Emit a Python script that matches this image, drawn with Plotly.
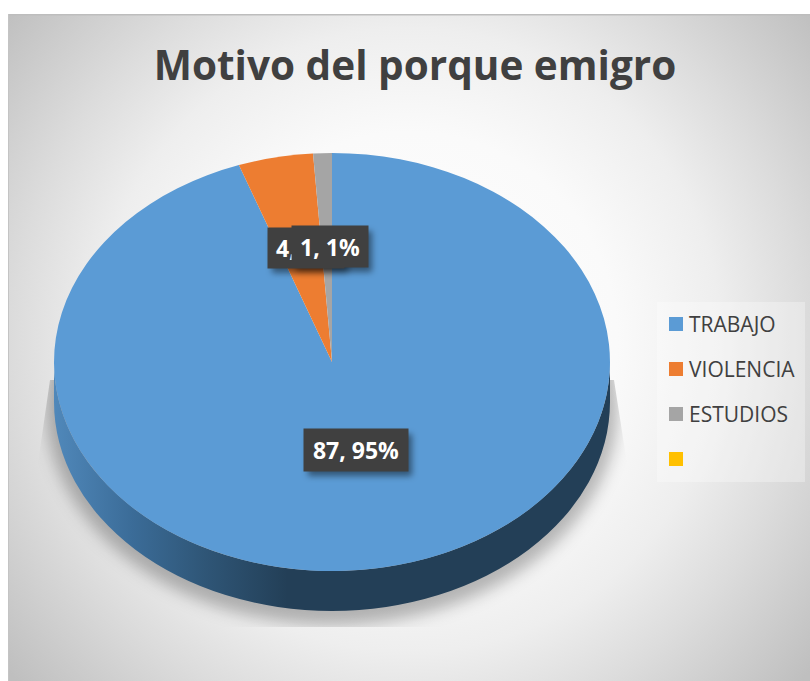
import base64
import plotly.graph_objects as go

TITLE = "Motivo del porque emigro"
CATEGORIES = ["TRABAJO", "VIOLENCIA", "ESTUDIOS", " "]
VALUES = [87, 4, 1, 0]
COLORS = ["#5B9BD5", "#ED7D31", "#A5A5A5", "#FFC000"]

W, H = 810, 681
CX, CY, RX, RY = 332, 362, 278, 209   # top face of the disc, in page pixels
DEPTH = 40
FONT = "Open Sans"
INK = "#404040"


def px(x):
    return x / W


def py(y):
    return 1 - y / H


def svg_uri(body):
    svg = f'<svg xmlns="http://www.w3.org/2000/svg" width="{W}" height="{H}" viewBox="0 0 {W} {H}">{body}</svg>'
    return "data:image/svg+xml;base64," + base64.b64encode(svg.encode()).decode()


background = f'''
<defs>
 <radialGradient id="bg" gradientUnits="userSpaceOnUse" cx="409" cy="340" r="520">
  <stop offset="0" stop-color="#ffffff"/><stop offset="0.4" stop-color="#fafafa"/>
  <stop offset="0.6" stop-color="#eeeeee"/><stop offset="0.76" stop-color="#dcdcdc"/>
  <stop offset="1" stop-color="#bfbfbf"/>
 </radialGradient>
 <linearGradient id="wall" gradientUnits="userSpaceOnUse" x1="{CX-RX}" y1="0" x2="{CX+RX}" y2="0">
  <stop offset="0" stop-color="#5088ba"/><stop offset="0.14" stop-color="#3b6c98"/>
  <stop offset="0.27" stop-color="#2f5677"/><stop offset="0.42" stop-color="#233f57"/>
  <stop offset="1" stop-color="#233f57"/>
 </linearGradient>
 <filter id="blur" x="-20%" y="-20%" width="140%" height="140%"><feGaussianBlur stdDeviation="8"/></filter>
 <clipPath id="sh"><path d="M50 380 L37 470 L37 627 L628 627 L628 470 L614 380 Z"/></clipPath>
</defs>
<rect width="{W}" height="{H}" fill="#ffffff"/>
<rect x="8" y="14" width="{W-8}" height="{H-14}" fill="url(#bg)"/>
<rect x="8" y="14" width="{W-8}" height="1.5" fill="#bdbdbd"/>
<rect x="8" y="14" width="1" height="{H-14}" fill="#c4c4c4"/>
<g clip-path="url(#sh)"><ellipse cx="{CX}" cy="{CY+DEPTH+4}" rx="{RX+8}" ry="{RY+10}" fill="#000000" fill-opacity="0.27" filter="url(#blur)"/></g>
<path d="M{CX-RX} {CY} A{RX} {RY} 0 0 0 {CX+RX} {CY} L{CX+RX} {CY+DEPTH} A{RX} {RY} 0 0 1 {CX-RX} {CY+DEPTH} Z" fill="url(#wall)"/>
<rect x="657" y="302" width="148" height="180" fill="#ffffff" fill-opacity="0.3"/>
'''

LABEL_BOXES = [(268, 228, 76, 40), (292, 226, 76, 41), (304, 429, 104, 42)]
shadow_rects = "".join(
    f'<rect x="{x+4}" y="{y+5}" width="{w}" height="{h}" fill="#000000" fill-opacity="0.45"/>'
    for x, y, w, h in LABEL_BOXES
)
label_shadow = f'''<defs><filter id="b2" x="-30%" y="-30%" width="160%" height="160%"><feGaussianBlur stdDeviation="3"/></filter></defs>
<g filter="url(#b2)">{shadow_rects}</g>'''

fig = go.Figure()
fig.add_trace(go.Pie(
    labels=CATEGORIES,
    values=VALUES,
    sort=False,
    direction="clockwise",
    rotation=0,
    textinfo="none",
    hoverinfo="label+value+percent",
    showlegend=False,
    marker=dict(colors=COLORS, line=dict(width=0)),
    domain=dict(x=[px(CX - RY), px(CX + RY)], y=[py(CY + RY), py(CY - RY)]),
))

annotations = []
total = sum(VALUES)
for (x, y, w, h), v in zip(LABEL_BOXES, [VALUES[1], VALUES[2], VALUES[0]]):
    annotations.append(dict(
        xref="paper", yref="paper", x=px(x + w / 2), y=py(y + h / 2),
        xanchor="center", yanchor="middle", showarrow=False,
        width=w, height=h, borderpad=0, bgcolor="#404040",
        text=f"<b>{v}, {round(v / total * 100)}%</b>",
        font=dict(family=FONT, size=23, color="#ffffff"),
    ))

LEGEND_Y = [324, 369, 414, 459]
shapes = []
for name, color, y in zip(CATEGORIES, COLORS, LEGEND_Y):
    shapes.append(dict(
        type="rect", xref="paper", yref="paper", layer="above",
        x0=px(669), x1=px(683), y0=py(y + 7), y1=py(y - 7),
        fillcolor=color, line=dict(width=0),
    ))
    annotations.append(dict(
        xref="paper", yref="paper", x=px(687), y=py(y), xanchor="left", yanchor="middle",
        showarrow=False, text=name, font=dict(family=FONT, size=21, color=INK),
    ))

fig.update_layout(
    width=W, height=H,
    margin=dict(l=0, r=0, t=0, b=0),
    paper_bgcolor="#ffffff",
    showlegend=False,
    title=dict(text=f"<b>{TITLE}</b>", x=415 / W, xanchor="center", y=py(66), yanchor="middle",
               font=dict(family=FONT, size=40.5, color=INK)),
    annotations=annotations,
    shapes=shapes,
    images=[
        dict(source=svg_uri(background), xref="paper", yref="paper", x=0, y=1, sizex=1, sizey=1,
             sizing="stretch", layer="below", xanchor="left", yanchor="top"),
        dict(source=svg_uri(label_shadow), xref="paper", yref="paper", x=0, y=1, sizex=1, sizey=1,
             sizing="stretch", layer="above", xanchor="left", yanchor="top"),
    ],
)

# The reference disc is a tilted (elliptical) pie: stretch the drawn pie sideways about its centre.
post = f"""
document.body.style.margin='0';
var g=document.getElementById('{{plot_id}}').querySelector('.pielayer');
if(g){{g.setAttribute('transform','translate({CX} {CY}) scale({RX / RY:.4f} 1) translate({-CX} {-CY})');}}
"""
fig.write_html("out.html", post_script=post, config=dict(displayModeBar=False))
